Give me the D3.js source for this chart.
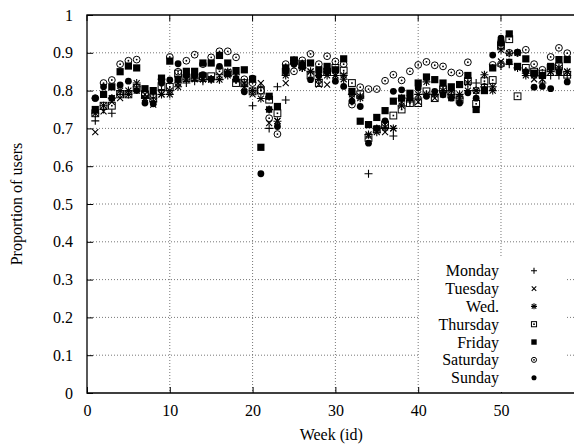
<!DOCTYPE html>
<html><head><meta charset="utf-8">
<script src="https://cdn.jsdelivr.net/npm/d3@7"></script>
<style>body{margin:0;background:#fff}svg{display:block}svg text{font-family:'Liberation Serif','Times New Roman',Times,'DejaVu Serif',serif !important;font-size:16px;fill:#000}</style>
</head><body><svg id="c" width="574" height="447"></svg>
<script>
const weeks = d3.range(1, 59);
const dayNames = ["Monday","Tuesday","Wed.","Thursday","Friday","Saturday","Sunday"];
const monday = [0.72,0.75,0.74,0.79,0.79,0.81,0.78,0.78,0.80,0.80,0.81,0.82,0.825,0.825,0.83,0.83,0.84,0.83,0.81,0.76,0.81,0.70,0.81,0.775,0.87,0.86,0.85,0.84,0.85,0.84,0.84,0.79,0.78,0.58,0.69,0.70,0.68,0.78,0.77,0.78,0.79,0.79,0.80,0.79,0.78,0.80,0.82,0.81,0.80,0.865,0.87,0.86,0.84,0.84,0.82,0.84,0.84,0.84];
const tuesday = [0.69,0.745,0.77,0.78,0.79,0.80,0.79,0.763,0.79,0.80,0.81,0.83,0.83,0.83,0.83,0.84,0.84,0.83,0.81,0.79,0.82,0.714,0.72,0.82,0.88,0.86,0.85,0.816,0.816,0.84,0.84,0.78,0.78,0.68,0.69,0.69,0.70,0.77,0.78,0.77,0.79,0.78,0.79,0.78,0.78,0.80,0.80,0.80,0.80,0.877,0.876,0.86,0.84,0.83,0.83,0.85,0.85,0.85];
const wednesday = [0.74,0.76,0.78,0.80,0.80,0.82,0.78,0.77,0.79,0.79,0.82,0.83,0.833,0.83,0.829,0.829,0.85,0.842,0.82,0.80,0.779,0.75,0.719,0.84,0.88,0.86,0.851,0.83,0.84,0.84,0.83,0.79,0.785,0.684,0.70,0.703,0.70,0.76,0.78,0.79,0.823,0.79,0.80,0.80,0.79,0.82,0.80,0.842,0.81,0.908,0.899,0.90,0.846,0.84,0.84,0.85,0.86,0.85];
const thursday = [0.74,0.76,0.76,0.79,0.79,0.807,0.79,0.78,0.812,0.81,0.845,0.833,0.835,0.838,0.838,0.851,0.846,0.82,0.82,0.798,0.80,0.776,0.74,0.85,0.88,0.87,0.84,0.82,0.85,0.86,0.853,0.82,0.79,0.675,0.697,0.71,0.734,0.75,0.767,0.767,0.798,0.78,0.803,0.79,0.776,0.825,0.765,0.825,0.828,0.92,0.936,0.785,0.86,0.85,0.845,0.86,0.864,0.842];
const friday = [0.75,0.79,0.81,0.85,0.865,0.86,0.805,0.80,0.833,0.878,0.83,0.851,0.851,0.873,0.873,0.893,0.873,0.853,0.855,0.83,0.65,0.785,0.758,0.86,0.88,0.865,0.873,0.855,0.864,0.855,0.884,0.798,0.719,0.71,0.729,0.747,0.772,0.78,0.793,0.82,0.836,0.829,0.82,0.81,0.816,0.84,0.75,0.80,0.86,0.926,0.95,0.864,0.884,0.846,0.84,0.864,0.882,0.882];
const saturday = [0.78,0.82,0.828,0.87,0.879,0.882,0.79,0.79,0.83,0.889,0.85,0.879,0.895,0.87,0.888,0.904,0.904,0.888,0.83,0.82,0.80,0.727,0.685,0.87,0.851,0.88,0.897,0.87,0.891,0.877,0.87,0.763,0.809,0.804,0.804,0.826,0.842,0.827,0.851,0.868,0.876,0.867,0.864,0.848,0.846,0.875,0.80,0.81,0.868,0.87,0.90,0.90,0.908,0.87,0.855,0.889,0.913,0.899];
const sunday = [0.78,0.81,0.78,0.815,0.825,0.80,0.767,0.765,0.82,0.828,0.871,0.84,0.84,0.842,0.83,0.864,0.845,0.83,0.797,0.833,0.58,0.75,0.705,0.85,0.87,0.87,0.829,0.84,0.85,0.825,0.811,0.772,0.758,0.661,0.70,0.72,0.798,0.802,0.78,0.807,0.785,0.798,0.789,0.78,0.767,0.794,0.78,0.802,0.894,0.939,0.876,0.902,0.85,0.809,0.811,0.805,0.85,0.823];
const xTicks = [0,10,20,30,40,50];
const yTicks = [0,0.1,0.2,0.3,0.4,0.5,0.6,0.7,0.8,0.9,1];
const yTickLabels = ["0","0.1","0.2","0.3","0.4","0.5","0.6","0.7","0.8","0.9","1"];
const symbols = ["plus","cross","star","boxdot","box","circdot","disc"];
const series = [monday,tuesday,wednesday,thursday,friday,saturday,sunday];

const FONT = "'Liberation Serif', 'Times New Roman', Times, serif";
const svg = d3.select("#c");
const L = 87, R = 575.5, T = 15, B = 393;
const x = d3.scaleLinear().domain([0,59]).range([L,R]);
const y = d3.scaleLinear().domain([0,1]).range([B,T]);

// grid
const g = svg.append("g");
g.selectAll(".gy").data(yTicks.slice(1,-1)).enter().append("line")
 .attr("x1",L).attr("x2",R).attr("y1",d=>y(d)).attr("y2",d=>y(d))
 .attr("stroke","#777").attr("stroke-width",1).attr("stroke-dasharray","1,2");
g.selectAll(".gx").data(xTicks.slice(1)).enter().append("line")
 .attr("y1",T).attr("y2",B).attr("x1",d=>x(d)).attr("x2",d=>x(d))
 .attr("stroke","#777").attr("stroke-width",1).attr("stroke-dasharray","1,2");

// axes
const yAxis = d3.axisLeft(y).tickValues(yTicks).tickFormat((d,i)=>yTickLabels[i]).tickSize(-6).tickPadding(14);
const xAxis = d3.axisBottom(x).tickValues(xTicks).tickFormat(d3.format("d")).tickSize(-6).tickPadding(14);
const ya = svg.append("g").attr("transform",`translate(${L},0)`).call(yAxis);
const xa = svg.append("g").attr("transform",`translate(0,${B})`).call(xAxis);
[ya,xa].forEach(a=>{a.attr("font-family",FONT).attr("font-size",16);a.select(".domain").remove();a.selectAll("line").attr("stroke","#000");a.selectAll("text").attr("fill","#000");});
xa.selectAll("text").attr("dy","0.71em").attr("y",12);
// mirrored ticks
svg.append("g").selectAll("line").data(xTicks).enter().append("line")
 .attr("x1",d=>x(d)).attr("x2",d=>x(d)).attr("y1",T).attr("y2",T+6).attr("stroke","#000");

function sym(sel, type, s){
  const h = s/2;
  if(type==="plus"||type==="star"){
    sel.append("path").attr("d",`M${-h},0H${h}M0,${-h}V${h}`).attr("stroke","#000").attr("stroke-width",1.1).attr("fill","none");
  }
  if(type==="cross"||type==="star"){
    const k=h*0.75;
    sel.append("path").attr("d",`M${-k},${-k}L${k},${k}M${-k},${k}L${k},${-k}`).attr("stroke","#000").attr("stroke-width",1.1).attr("fill","none");
  }
  if(type==="boxdot"){
    const k=h*0.85;
    sel.append("rect").attr("x",-k).attr("y",-k).attr("width",2*k).attr("height",2*k).attr("fill","none").attr("stroke","#000").attr("stroke-width",1);
    sel.append("rect").attr("x",-0.8).attr("y",-0.8).attr("width",1.6).attr("height",1.6).attr("fill","#000");
  }
  if(type==="box"){
    const k=h*0.9;
    sel.append("rect").attr("x",-k).attr("y",-k).attr("width",2*k).attr("height",2*k).attr("fill","#000");
  }
  if(type==="circdot"){
    sel.append("circle").attr("r",h*0.85).attr("fill","none").attr("stroke","#000").attr("stroke-width",1);
    sel.append("circle").attr("r",0.9).attr("fill","#000");
  }
  if(type==="disc"){
    sel.append("circle").attr("r",h*0.85).attr("fill","#000");
  }
}

const plot = svg.append("g");
series.forEach((vals,si)=>{
  const gs = plot.append("g");
  weeks.forEach((w,i)=>{
    const p = gs.append("g").attr("transform",`translate(${x(w)},${y(vals[i])})`);
    sym(p, symbols[si], 8);
  });
});

// legend (opaque)
svg.append("rect").attr("x",420).attr("y",257).attr("width",146).attr("height",135).attr("fill","#fff");
const ly = d3.scalePoint().domain(dayNames).range([270.7,377.7]);
dayNames.forEach((n,i)=>{
  svg.append("text").attr("x",499).attr("y",ly(n)).attr("dy","0.35em").attr("text-anchor","end").attr("font-family",FONT).attr("font-size",16).text(n);
  sym(svg.append("g").attr("transform",`translate(534,${ly(n)})`), symbols[i], 6);
});

// border
svg.append("path").attr("d",`M${R},${T}H${L}V${B}H${R}`).attr("fill","none").attr("stroke","#000").attr("stroke-width",1.3);

// labels
svg.append("text").attr("x",(L+R)/2).attr("y",440).attr("text-anchor","middle").attr("font-family",FONT).attr("font-size",16).text("Week (id)");
svg.append("text").attr("transform",`translate(22,${(T+B)/2}) rotate(-90)`).attr("text-anchor","middle").attr("font-family",FONT).attr("font-size",16).text("Proportion of users");
</script></body></html>
